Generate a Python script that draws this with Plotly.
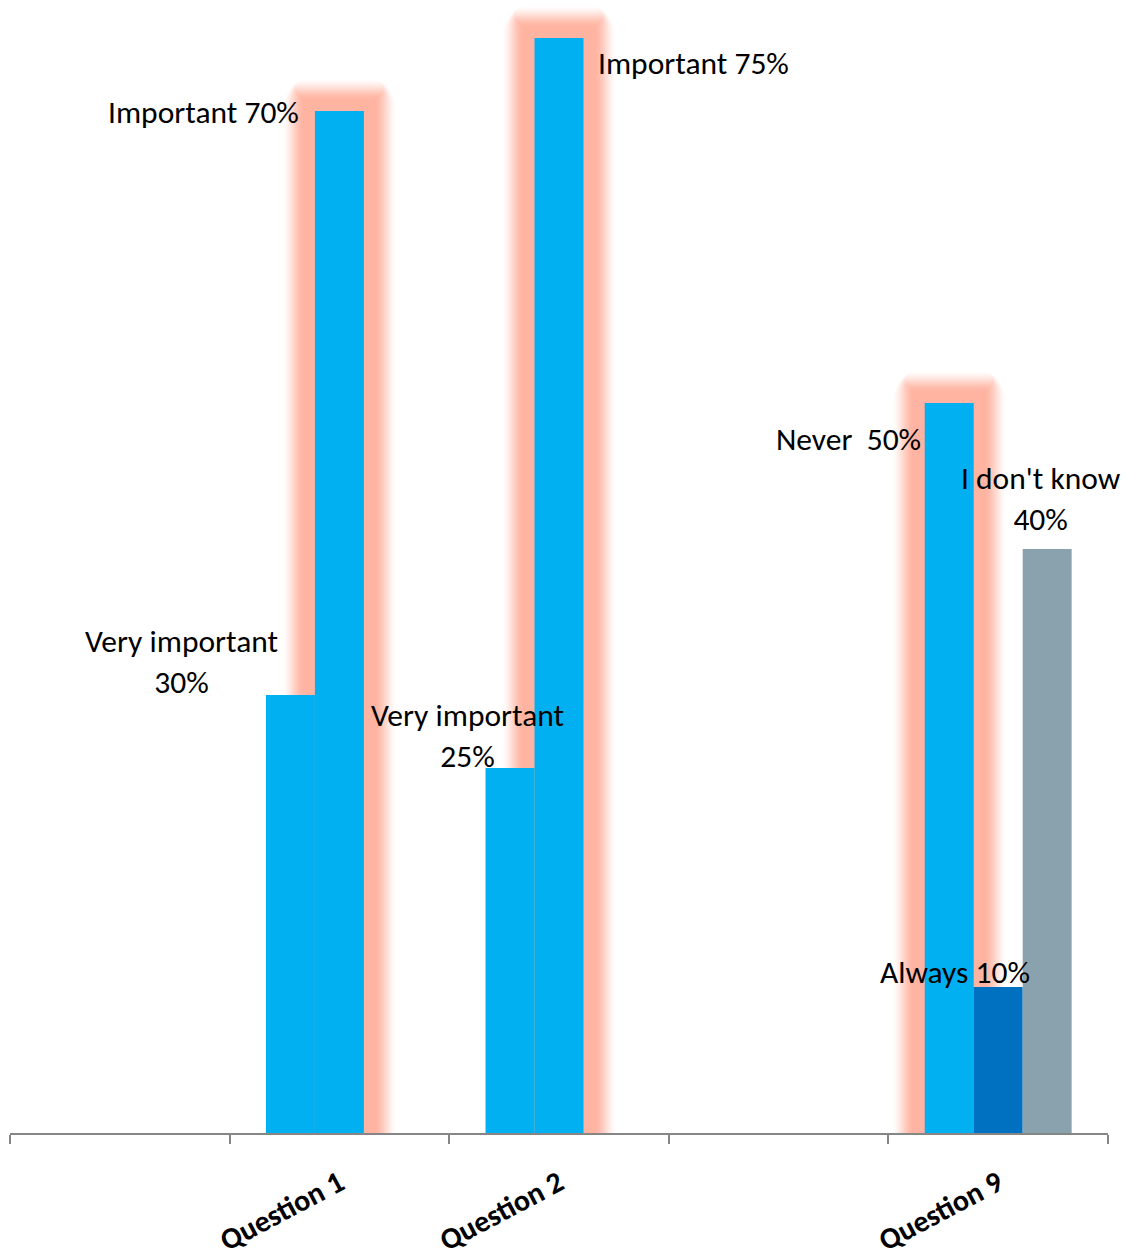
import plotly.graph_objects as go

# Category slots along the x axis (empty slots are kept as spacing)
categories = ["", "Question 1", "Question 2", "", "Question 9"]

# Three series of answers per question (None = no answer for that question)
series1_values = [None, 30, 25, None, 50]
series1_labels = [None, "Very important", "Very important", None, "Never\u00a0 "]
series2_values = [None, 70, 75, None, 10]
series2_labels = [None, "Important", "Important", None, "Always"]
series3_values = [None, None, None, None, 40]
series3_labels = [None, None, None, None, "I don't know"]

LIGHT_BLUE = "#00B0F0"
DARK_BLUE = "#0070C0"
GREY = "#8AA2AE"
series_colors = [
    [LIGHT_BLUE] * 5,
    [LIGHT_BLUE, LIGHT_BLUE, LIGHT_BLUE, LIGHT_BLUE, DARK_BLUE],
    [GREY] * 5,
]

# Most frequent answer per question gets a soft glow: (series index, slot)
highlighted = [(1, 1), (1, 2), (0, 4)]

all_values = [series1_values, series2_values, series3_values]

W, H = 1131, 1260
M_L, M_R, M_T, M_B = 10, 23, 0, 127
plot_w = W - M_L - M_R
plot_h = H - M_T - M_B
Y_MAX = 77.6
x_px = plot_w / len(categories)   # pixels per category unit
y_px = plot_h / Y_MAX             # pixels per percent

BAR_W = 0.223
offsets = [-1.5 * BAR_W + k * BAR_W for k in range(3)]

fig = go.Figure()

# Glow: stacked wider/taller rounded bars, outermost (palest) first
glow_rgb = (255, 180, 162)
inner, outer, step = 11, 34, 1.0
e = outer
layers = []
while e >= 0:
    if e <= inner:
        t = 1.0
    else:
        u = (outer - e) / (outer - inner)
        t = u * u * (3 - 2 * u)
    col = tuple(round(255 + (c - 255) * t) for c in glow_rgb)
    layers.append((e, "rgb(%d,%d,%d)" % col))
    e -= step

for ext, col in layers:
    xs, ys = [], []
    for s, slot in highlighted:
        v = all_values[s][slot]
        xs.append(slot + offsets[s] + BAR_W / 2)
        ys.append(v + ext / y_px)
    fig.add_trace(go.Bar(
        x=xs, y=ys, width=BAR_W + 2 * ext / x_px,
        marker=dict(color=col, line=dict(width=0), cornerradius=int(ext)),
        hoverinfo="skip", showlegend=False,
    ))

# Main bars
for k, vals in enumerate(all_values):
    fig.add_trace(go.Bar(
        x=list(range(len(categories))), y=vals,
        offset=offsets[k], width=BAR_W,
        marker=dict(color=series_colors[k], line=dict(width=0)),
        showlegend=False,
    ))

LABEL_FONT = dict(family="Carlito, Calibri, Lato, sans-serif", size=31.5, color="#000000")

def label(slot, s, text, dx, dy, xanchor, yanchor="middle"):
    v = all_values[s][slot]
    fig.add_annotation(
        x=slot + offsets[s], y=v, xref="x", yref="y", text=text,
        showarrow=False, xanchor=xanchor, yanchor=yanchor,
        xshift=dx, yshift=dy, font=LABEL_FONT, align="center",
    )

def pct(v):
    return "%d%%" % v

# Question 1
label(1, 1, f"{series2_labels[1]} {pct(series2_values[1])}", -14, -1, "right")
label(1, 0, f"{series1_labels[1]}<br>{pct(series1_values[1])}", -84, 33, "center")
# Question 2
label(2, 1, f"{series2_labels[2]} {pct(series2_values[2])}", BAR_W * x_px + 13, -25, "left")
label(2, 0, f"{series1_labels[2]}<br>{pct(series1_values[2])}", -18, 32, "center")
# Question 9
label(4, 0, f"{series1_labels[4]}{pct(series1_values[4])}", -2, -36, "right")
label(4, 2, f"{series3_labels[4]}<br>{pct(series3_values[4])}", BAR_W * x_px / 2 - 6, 50, "center")
label(4, 1, f"{series2_labels[4]} {pct(series2_values[4])}", BAR_W * x_px / 2 - 43, 15, "center")

tick_pos = [i for i, c in enumerate(categories) if c]
tick_txt = [c for c in categories if c]

fig.update_layout(
    width=W, height=H,
    margin=dict(l=M_L, r=M_R, t=M_T, b=M_B, autoexpand=False),
    barmode="overlay",
    plot_bgcolor="white", paper_bgcolor="white",
    xaxis=dict(
        range=[-0.5, len(categories) - 0.5],
        tickmode="array", tickvals=tick_pos, ticktext=tick_txt,
        tickangle=-28, ticks="", ticklabelstandoff=19,
        tickfont=dict(family="Carlito, Calibri, Lato, sans-serif", size=30, color="#000000", weight="bold"),
        showline=True, linecolor="#868686", linewidth=1.5,
        showgrid=False, zeroline=False, automargin=False,
        minor=dict(tickvals=[i - 0.5 for i in range(len(categories) + 1)],
                   ticks="outside", ticklen=9, tickwidth=1.5, tickcolor="#868686",
                   showgrid=False),
    ),
    yaxis=dict(range=[0, Y_MAX], visible=False, showgrid=False, zeroline=False),
)

fig.write_html("out.html")
